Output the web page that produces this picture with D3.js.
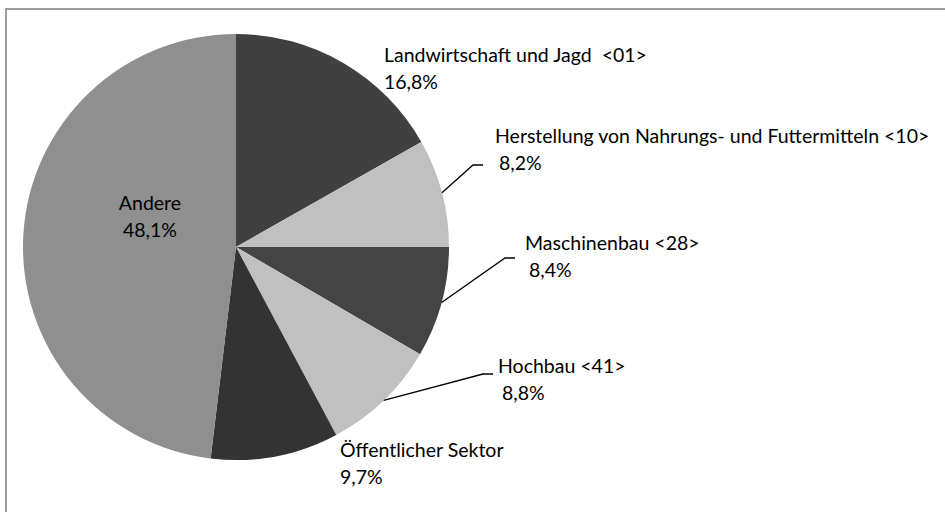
<!DOCTYPE html>
<html>
<head>
<meta charset="utf-8">
<script src="https://cdn.jsdelivr.net/npm/d3@7"></script>
<style>
  body { margin: 0; background: #fff; }
  svg { display: block; font-family: Lato, "Open Sans", sans-serif; }
</style>
</head>
<body>
<div id="chart"></div>
<script>
// sectors, clockwise from 12 o'clock
const sectors = [
  "Landwirtschaft und Jagd  <01>",
  "Herstellung von Nahrungs- und Futtermitteln <10>",
  "Maschinenbau <28>",
  "Hochbau <41>",
  "Öffentlicher Sektor",
  "Andere"
];
const shares = [16.8, 8.2, 8.4, 8.8, 9.7, 48.1];
const shareLabels = ["16,8%", "8,2%", "8,4%", "8,8%", "9,7%", "48,1%"];

const sliceColors = ["#404040", "#c0c0c0", "#444444", "#c0c0c0", "#333333", "#8f8f8f"];

// label placement: text anchor point, second line x offset, leader elbow (null = no leader)
const labelLayout = [
  { x: 384, y: 62,  dx2: 0, anchor: "start",  elbow: null },
  { x: 495, y: 143, dx2: 4, anchor: "start",  elbow: [473, 165, 483] },
  { x: 525, y: 250, dx2: 4, anchor: "start",  elbow: [505, 258, 515] },
  { x: 498, y: 373, dx2: 4, anchor: "start",  elbow: [483, 374, 493] },
  { x: 340, y: 457, dx2: 0, anchor: "start",  elbow: null },
  { x: 150, y: 210, dx2: 0, anchor: "middle", elbow: null }
];

const width = 945, height = 512;
const cx = 236, cy = 247, radius = 213;

const svg = d3.select("#chart").append("svg")
  .attr("width", width)
  .attr("height", height);

// frame (only top/left edges are inside the picture)
svg.append("rect")
  .attr("x", 6).attr("y", 9)
  .attr("width", 1200).attr("height", 1200)
  .attr("fill", "none")
  .attr("stroke", "#858585")
  .attr("stroke-width", 1.6);

const data = sectors.map((name, i) => ({ name, value: shares[i], label: shareLabels[i], i }));

const pie = d3.pie().value(d => d.value).sort(null);
const arc = d3.arc().innerRadius(0).outerRadius(radius);
const arcs = pie(data);

const g = svg.append("g").attr("transform", `translate(${cx},${cy})`);

g.selectAll("path.slice")
  .data(arcs)
  .join("path")
    .attr("class", "slice")
    .attr("d", arc)
    .attr("fill", d => sliceColors[d.data.i]);

// leader lines
const line = d3.line();
arcs.forEach(a => {
  const lay = labelLayout[a.data.i];
  if (!lay.elbow) return;
  const mid = (a.startAngle + a.endAngle) / 2;
  const sx = cx + radius * Math.sin(mid);
  const sy = cy - radius * Math.cos(mid);
  const [ex, ey, hx] = lay.elbow;
  svg.append("path")
    .attr("d", line([[sx, sy], [ex, ey], [hx, ey]]))
    .attr("fill", "none")
    .attr("stroke", "#000")
    .attr("stroke-width", 1.3);
});

// labels
const labels = svg.selectAll("text.lbl")
  .data(data)
  .join("text")
    .attr("class", "lbl")
    .attr("font-size", 19.5)
    .attr("fill", "#000")
    .attr("text-anchor", d => labelLayout[d.i].anchor);

labels.append("tspan")
  .attr("x", d => labelLayout[d.i].x)
  .attr("y", d => labelLayout[d.i].y)
  .style("white-space", "pre")
  .text(d => d.name);

labels.append("tspan")
  .attr("x", d => labelLayout[d.i].x + labelLayout[d.i].dx2)
  .attr("y", d => labelLayout[d.i].y + 27)
  .text(d => d.label);
</script>
</body>
</html>
